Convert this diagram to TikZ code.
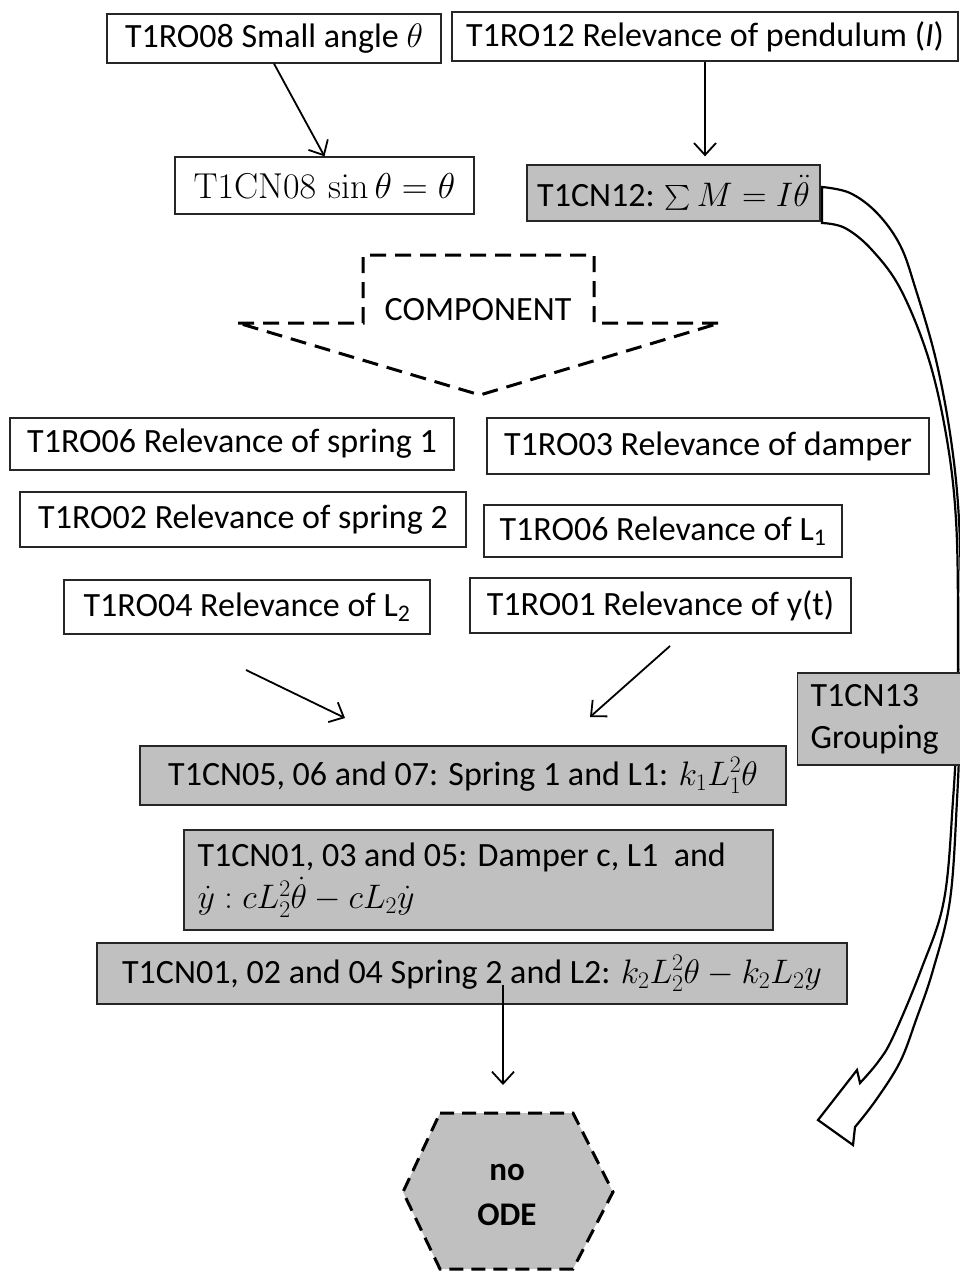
\RequirePackage{fix-cm}
\documentclass[tikz,border=0pt]{standalone}
\usepackage{exscale}
\usepackage[no-math]{fontspec}
\setmainfont{Carlito}
\usetikzlibrary{arrows.meta}
\definecolor{grayfill}{RGB}{192,192,192}
\newcommand\fsz{\fontsize{34}{42}\selectfont}
\begin{document}
\begin{tikzpicture}[x=1pt,y=-1pt,
  box/.style={draw=black!85, line width=1.3pt, inner sep=0pt, font=\fsz, anchor=center},
  gbox/.style={box, fill=grayfill},
  arr/.style={line width=1.8pt, -{Straight Barb[length=12pt,width=22pt,line width=1.8pt]}},
  dsh/.style={line width=3pt, dash pattern=on 16pt off 9pt},
  band/.style={line width=2.2pt, fill=white, line join=miter}
]
\useasboundingbox (0,0) rectangle (960,1271);

% hollow curved arrow (drawn first, boxes lie over it)
\draw[band]
  plot[smooth, tension=0.6] coordinates {(822,187) (850,193) (877,213) (900,245) (915,287) (936,360) (951,440) (959,520) (961,620) (960,720) (957,800) (950,900) (933,970) (916,1020) (900,1062) (876,1100) (855,1127)}
  -- (853,1145) -- (818,1120) -- (857,1070) --
  plot[smooth, tension=0.6] coordinates {(860,1083) (878,1062) (893,1037) (921,970) (944,900) (953,800) (957,720) (958,620) (956,520) (947,440) (929,360) (901,290) (872,250) (845,228) (822,223)}
  -- cycle;

% top row
\node[box, minimum width=334pt, minimum height=49pt] (A) at (274,38.5) {T1RO08 Small angle $\theta$};
\node[box, minimum width=506pt, minimum height=49pt] (B) at (705,36.5) {T1RO12 Relevance of pendulum (\textit{I})};
\node[box, minimum width=299pt, minimum height=57pt, font=\fontsize{36}{42}\selectfont] (C) at (324.5,185.5) {$\mathrm{T1CN08}\,\sin\theta=\theta$};
\node[gbox, minimum width=293pt, minimum height=56pt] (D) at (673.5,193) {T1CN12: $\sum M = I\ddot{\theta}$};

\draw[arr] (A.south) -- (C.north);
\draw[arr] (B.south) -- ([yshift=8pt]B.south |- D.north);

% COMPONENT dashed arrow
\draw[dsh] (238,323) -- (363,323) -- (363,255) -- (594,255) -- (594,323) -- (720,323) -- (480,395) -- cycle;
\node[font=\fsz] (comp) at (478,310) {COMPONENT};

% relevance boxes
\node[box, minimum width=444pt, minimum height=52pt] (r1l) at (232,444) {T1RO06 Relevance of spring 1};
\node[box, minimum width=442pt, minimum height=56pt] (r1r) at (708,446) {T1RO03 Relevance of damper};
\node[box, minimum width=446pt, minimum height=55pt] (r2l) at (243,519.5) {T1RO02 Relevance of spring 2};
\node[box, minimum width=358pt, minimum height=52pt] (r2r) at (663,531) {T1RO06 Relevance of L\textsubscript{1}};
\node[box, minimum width=366pt, minimum height=54pt] (r3l) at (247,607) {T1RO04 Relevance of L\textsubscript{2}};
\node[box, minimum width=381pt, minimum height=55pt] (r3r) at (660.5,605.5) {T1RO01 Relevance of y(t)};

\coordinate (p1) at (246,670);
\coordinate (p2) at (345,718);
\coordinate (q1) at (670,646);
\coordinate (q2) at (590,717);
\draw[arr] (p1) -- (p2);
\draw[arr] (q1) -- (q2);

% grouping box
\node[gbox, minimum height=92pt, inner xsep=13pt, align=left, anchor=west] (g13) at (797,719) {T1CN13\\Grouping\hspace*{16pt}};

% gray formula boxes
\node[gbox, minimum width=646pt, minimum height=59pt, font=\fontsize{34}{42}\selectfont] (s1) at (463,775.5) {T1CN05, 06 and 07: Spring 1 and L1: $k_1L_1^2\theta$};
\node[gbox, minimum width=589pt, minimum height=100pt, align=left] (s2) at (478.5,880) {\makebox[562pt][l]{T1CN01, 03 and 05: Damper c, L1\ \ and}\\$\dot{y} : cL_2^2\dot{\theta} - cL_2\dot{y}$};
\node[gbox, minimum width=750pt, minimum height=61pt] (s3) at (472,973.5) {T1CN01, 02 and 04 Spring 2 and L2: $k_2L_2^2\theta - k_2L_2y$};

\coordinate (r1) at (503,985);
\coordinate (r2) at (503,1085);
\draw[arr] (r1) -- (r2);

% hexagon
\draw[dsh, fill=grayfill, dash pattern=on 14pt off 8pt] (440,1113) -- (573,1113) -- (613,1192) -- (573,1269) -- (440,1269) -- (403,1192) -- cycle;
\node[font=\fontsize{33}{45}\selectfont\bfseries, align=center] (H) at (507,1195) {no\\ODE};
\end{tikzpicture}
\end{document}
